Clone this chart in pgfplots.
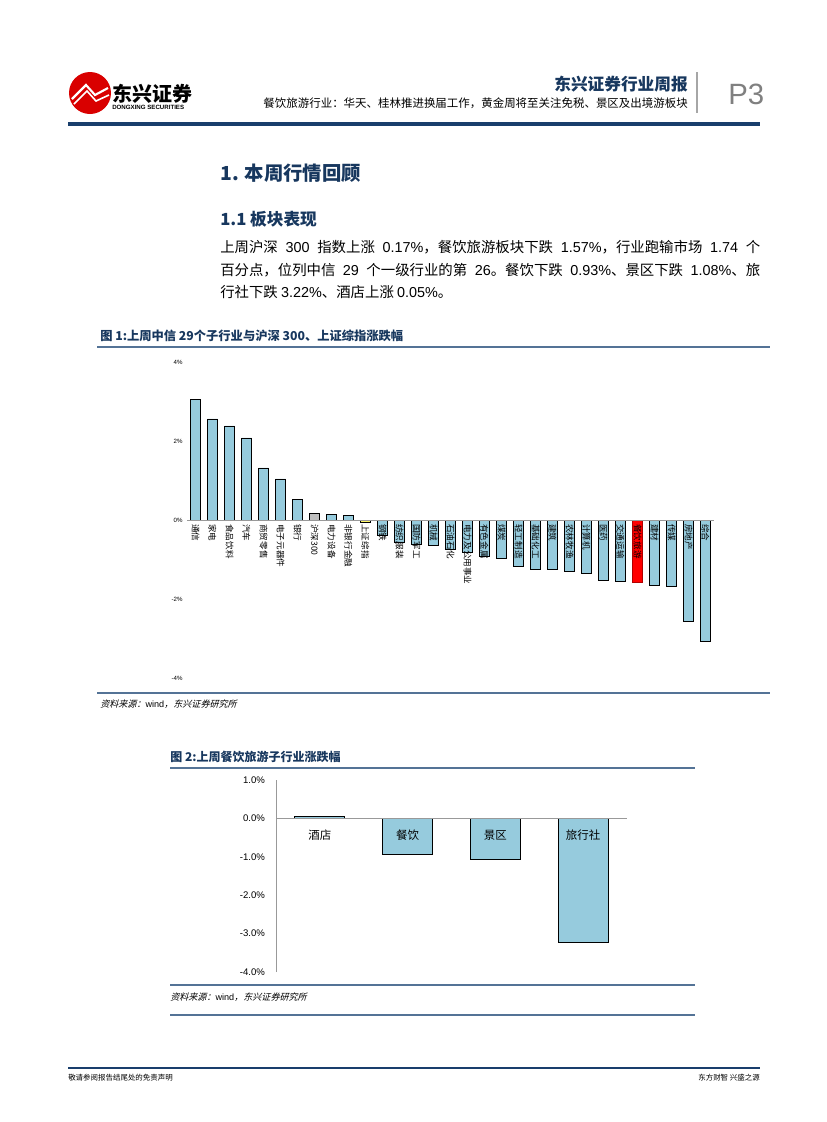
\documentclass[border=0pt]{standalone}
\usepackage{pgfplots}
\pgfplotsset{compat=1.18}
\usepackage{fontspec}
\setmainfont{Noto Sans CJK SC}
\newfontfamily\latin{Liberation Sans}
\newfontfamily\slant[FakeSlant=0.25]{Noto Sans CJK SC}
\newcommand\lt[1]{{\latin #1}}
\definecolor{navy}{RGB}{23,55,94}
\definecolor{rulec}{RGB}{84,115,150}
\definecolor{barblue}{RGB}{150,203,221}
\definecolor{hdr}{RGB}{25,62,108}
\begin{document}
\begin{tikzpicture}[x=0.75pt,y=-0.75pt]
% page
\fill[white] (0,0) rectangle (827,1122);
\path[use as bounding box] (0,0) rectangle (827,1122);

% header
\fill[red!85!black] (90,93) circle (21);
\draw[white, line width=1.6pt] (72,99) -- (86,85) -- (95,95) -- (108,88);
\draw[white, line width=1.2pt] (74,104) -- (87,91) -- (96,101) -- (109,95);
\node[anchor=base west, inner sep=0, font=\fontsize{15}{15}\selectfont\bfseries] at (112,101) {东兴证券};
\node[anchor=base west, inner sep=0, font=\latin\fontsize{4.6}{5}\selectfont\bfseries] at (112,109) {DONGXING SECURITIES};
\node[anchor=base east, inner sep=0, text=navy, font=\fontsize{12.5}{13}\selectfont\bfseries] at (688,90) {东兴证券行业周报};
\node[anchor=base east, inner sep=0, font=\fontsize{8.6}{9}\selectfont] at (688,107) {餐饮旅游行业：华天、桂林推进换届工作，黄金周将至关注免税、景区及出境游板块};
\draw[gray!70, line width=0.8pt] (697,72) -- (697,113);
\node[anchor=base west, inner sep=0, text=gray, font=\latin\fontsize{22}{22}\selectfont] at (728,104) {P3};
\draw[hdr, line width=2.6pt] (68,124) -- (760,124);

% headings and text
\node[anchor=base west, inner sep=0, text=navy, font=\fontsize{14.5}{15}\selectfont\bfseries] at (220,180) {1. 本周行情回顾};
\node[anchor=base west, inner sep=0, text=navy, font=\fontsize{12.5}{13}\selectfont\bfseries] at (220,225) {1.1 板块表现};
\node[anchor=base west, inner sep=0, font=\fontsize{10.8}{13}\selectfont] at (220,252)
  {\makebox[405pt][s]{上周沪深 \lt{300} 指数上涨 \lt{0.17\%}，餐饮旅游板块下跌 \lt{1.57\%}，行业跑输市场 \lt{1.74} 个}};
\node[anchor=base west, inner sep=0, font=\fontsize{10.8}{13}\selectfont] at (220,275)
  {\makebox[405pt][s]{百分点，位列中信 \lt{29} 个一级行业的第 \lt{26}。餐饮下跌 \lt{0.93\%}、景区下跌 \lt{1.08\%}、旅}};
\node[anchor=base west, inner sep=0, font=\fontsize{10.8}{13}\selectfont] at (220,297)
  {行社下跌 \lt{3.22\%}、酒店上涨 \lt{0.05\%}。};

% figure 1 frame
\node[anchor=base west, inner sep=0, text=navy, font=\fontsize{9.2}{10}\selectfont\bfseries] at (100,340) {图 1:上周中信 29个子行业与沪深 300、上证综指涨跌幅};
\draw[rulec, line width=1.1pt] (97,347) -- (770,347);
\draw[rulec, line width=1.1pt] (97,693) -- (770,693);
\node[anchor=base west, inner sep=0, font=\slant\fontsize{6.8}{7}\selectfont] at (100,707) {资料来源：\lt{wind}，东兴证券研究所};

\begin{axis}[
    at={(140.25pt,-508.5pt)}, anchor=south west,
    scale only axis, width=395.25pt, height=237pt,
    xmin=-0.5, xmax=30.5, ymin=-4, ymax=4,
    axis on top,
    axis x line=middle, axis y line=left,
    x axis line style={draw=gray!80, -, line width=0.6pt},
    y axis line style={draw=none},
    hide obscured x ticks=false, hide obscured y ticks=false,
    tick style={draw=none},
    /pgf/number format/assume math mode=true,
    ytick={-4,-2,0,2,4},
    yticklabels={-4\%,-2\%,0\%,2\%,4\%},
    yticklabel style={font=\latin\fontsize{4.6}{5}\selectfont, inner sep=1pt},
    xtick={0,...,30},
    xticklabels={通信,家电,食品饮料,汽车,商贸零售,电子元器件,银行,沪深300,电力设备,非银行金融,上证综指,钢铁,纺织服装,国防军工,机械,石油石化,电力及公用事业,有色金属,煤炭,轻工制造,基础化工,建筑,农林牧渔,计算机,医药,交通运输,餐饮旅游,建材,传媒,房地产,综合},
    xticklabel style={rotate=-90, anchor=west, inner sep=1pt, font=\fontsize{6.4}{6.5}\selectfont},
]
\addplot[ybar, bar width=7.5pt, bar shift=0pt, fill=barblue, draw=black, line width=0.5pt] coordinates {
 (0,3.06)(1,2.56)(2,2.38)(3,2.08)(4,1.32)(5,1.04)(6,0.53)(8,0.14)(9,0.12)
 (11,-0.38)(12,-0.56)(13,-0.61)(14,-0.64)(15,-0.73)(16,-0.83)(17,-0.91)(18,-0.98)
 (19,-1.17)(20,-1.24)(21,-1.25)(22,-1.29)(23,-1.36)(24,-1.52)(25,-1.55)
 (27,-1.66)(28,-1.68)(29,-2.57)(30,-3.08)
};
\addplot[ybar, bar width=7.5pt, bar shift=0pt, fill=gray!50, draw=black, line width=0.5pt] coordinates {(7,0.17)};
\addplot[ybar, bar width=7.5pt, bar shift=0pt, fill=yellow!60, draw=black, line width=0.5pt] coordinates {(10,-0.06)};
\addplot[ybar, bar width=7.5pt, bar shift=0pt, fill=red, draw=red!70!black, line width=0.5pt] coordinates {(26,-1.57)};
\end{axis}

% figure 2 frame
\node[anchor=base west, inner sep=0, text=navy, font=\fontsize{9}{10}\selectfont\bfseries] at (170,761) {图 2:上周餐饮旅游子行业涨跌幅};
\draw[rulec, line width=1.1pt] (170,768) -- (695,768);
\draw[rulec, line width=1.1pt] (170,985) -- (695,985);
\draw[rulec, line width=1.1pt] (170,1015) -- (695,1015);
\node[anchor=base west, inner sep=0, font=\slant\fontsize{6.8}{7}\selectfont] at (170,1000) {资料来源：\lt{wind}，东兴证券研究所};

\begin{axis}[
    at={(207pt,-729pt)}, anchor=south west,
    scale only axis, width=263.25pt, height=144pt,
    xmin=-0.5, xmax=3.5, ymin=-4, ymax=1,
    axis on top,
    axis x line=middle, axis y line=left,
    axis line style={draw=gray!80, -, line width=0.6pt},
    hide obscured x ticks=false, hide obscured y ticks=false,
    tick style={draw=none},
    /pgf/number format/assume math mode=true,
    ytick={-4,-3,-2,-1,0,1},
    yticklabels={-4.0\%,-3.0\%,-2.0\%,-1.0\%,0.0\%,1.0\%},
    yticklabel style={font=\latin\fontsize{7.2}{8}\selectfont, inner sep=2pt, xshift=-4pt},
    xtick={0,1,2,3},
    xticklabels={酒店,餐饮,景区,旅行社},
    xticklabel style={font=\fontsize{8.6}{9}\selectfont, yshift=-3pt},
]
\addplot[ybar, bar width=37.5pt, bar shift=0pt, fill=barblue, draw=black, line width=0.6pt] coordinates {
 (0,0.05)(1,-0.93)(2,-1.08)(3,-3.22)
};
\end{axis}

% footer
\draw[hdr, line width=1.1pt] (68,1068) -- (760,1068);
\node[anchor=base west, inner sep=0, font=\fontsize{5.6}{6}\selectfont] at (68,1080) {敬请参阅报告结尾处的免责声明};
\node[anchor=base east, inner sep=0, font=\fontsize{5.6}{6}\selectfont] at (760,1080) {东方财智 兴盛之源};
\end{tikzpicture}
\end{document}
